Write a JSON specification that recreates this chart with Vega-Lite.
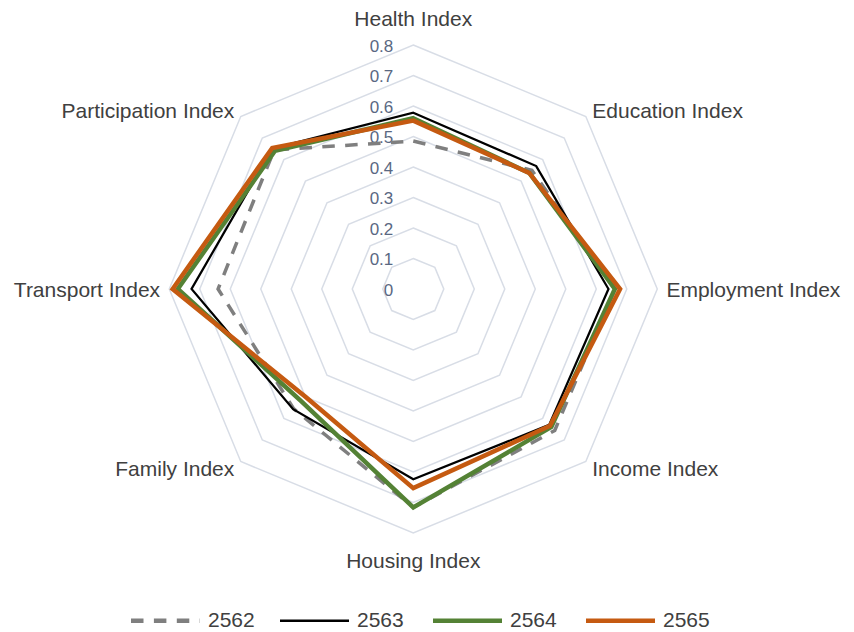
{
  "$schema": "https://vega.github.io/schema/vega-lite/v6.json",
  "width": 854,
  "height": 632,
  "autosize": {"type": "none"},
  "padding": 0,
  "background": "white",
  "config": {"view": {"stroke": null}, "font": "Liberation Sans"},
  "datasets": {
    "series": [
      {"year": "2562", "axis": "Health Index", "idx": 0, "value": 0.485},
      {"year": "2562", "axis": "Education Index", "idx": 1, "value": 0.55},
      {"year": "2562", "axis": "Employment Index", "idx": 2, "value": 0.66},
      {"year": "2562", "axis": "Income Index", "idx": 3, "value": 0.656},
      {"year": "2562", "axis": "Housing Index", "idx": 4, "value": 0.716},
      {"year": "2562", "axis": "Family Index", "idx": 5, "value": 0.555},
      {"year": "2562", "axis": "Transport Index", "idx": 6, "value": 0.64},
      {"year": "2562", "axis": "Participation Index", "idx": 7, "value": 0.645},
      {"year": "2563", "axis": "Health Index", "idx": 0, "value": 0.578},
      {"year": "2563", "axis": "Education Index", "idx": 1, "value": 0.57},
      {"year": "2563", "axis": "Employment Index", "idx": 2, "value": 0.64},
      {"year": "2563", "axis": "Income Index", "idx": 3, "value": 0.63},
      {"year": "2563", "axis": "Housing Index", "idx": 4, "value": 0.624},
      {"year": "2563", "axis": "Family Index", "idx": 5, "value": 0.557},
      {"year": "2563", "axis": "Transport Index", "idx": 6, "value": 0.727},
      {"year": "2563", "axis": "Participation Index", "idx": 7, "value": 0.652},
      {"year": "2564", "axis": "Health Index", "idx": 0, "value": 0.56},
      {"year": "2564", "axis": "Education Index", "idx": 1, "value": 0.538},
      {"year": "2564", "axis": "Employment Index", "idx": 2, "value": 0.661},
      {"year": "2564", "axis": "Income Index", "idx": 3, "value": 0.64},
      {"year": "2564", "axis": "Housing Index", "idx": 4, "value": 0.716},
      {"year": "2564", "axis": "Family Index", "idx": 5, "value": 0.52},
      {"year": "2564", "axis": "Transport Index", "idx": 6, "value": 0.772},
      {"year": "2564", "axis": "Participation Index", "idx": 7, "value": 0.641},
      {"year": "2565", "axis": "Health Index", "idx": 0, "value": 0.552},
      {"year": "2565", "axis": "Education Index", "idx": 1, "value": 0.538},
      {"year": "2565", "axis": "Employment Index", "idx": 2, "value": 0.678},
      {"year": "2565", "axis": "Income Index", "idx": 3, "value": 0.634},
      {"year": "2565", "axis": "Housing Index", "idx": 4, "value": 0.653},
      {"year": "2565", "axis": "Family Index", "idx": 5, "value": 0.5},
      {"year": "2565", "axis": "Transport Index", "idx": 6, "value": 0.789},
      {"year": "2565", "axis": "Participation Index", "idx": 7, "value": 0.654}
    ],
    "axes": [
      {"axis": "Health Index", "idx": 0},
      {"axis": "Education Index", "idx": 1},
      {"axis": "Employment Index", "idx": 2},
      {"axis": "Income Index", "idx": 3},
      {"axis": "Housing Index", "idx": 4},
      {"axis": "Family Index", "idx": 5},
      {"axis": "Transport Index", "idx": 6},
      {"axis": "Participation Index", "idx": 7}
    ],
    "levels": [
      {"level": 0, "label": "0", "k": [0, 1, 2, 3, 4, 5, 6, 7]},
      {"level": 0.1, "label": "0.1", "k": [0, 1, 2, 3, 4, 5, 6, 7]},
      {"level": 0.2, "label": "0.2", "k": [0, 1, 2, 3, 4, 5, 6, 7]},
      {"level": 0.3, "label": "0.3", "k": [0, 1, 2, 3, 4, 5, 6, 7]},
      {"level": 0.4, "label": "0.4", "k": [0, 1, 2, 3, 4, 5, 6, 7]},
      {"level": 0.5, "label": "0.5", "k": [0, 1, 2, 3, 4, 5, 6, 7]},
      {"level": 0.6, "label": "0.6", "k": [0, 1, 2, 3, 4, 5, 6, 7]},
      {"level": 0.7, "label": "0.7", "k": [0, 1, 2, 3, 4, 5, 6, 7]},
      {"level": 0.8, "label": "0.8", "k": [0, 1, 2, 3, 4, 5, 6, 7]}
    ]
  },
  "layer": [
    {
      "data": {"name": "levels"},
      "transform": [
        {"filter": "datum.level > 0"},
        {"flatten": ["k"]},
        {"calculate": "datum.level * sin(datum.k * PI / 4)", "as": "x"},
        {"calculate": "datum.level * cos(datum.k * PI / 4)", "as": "y"}
      ],
      "mark": {"type": "line", "interpolate": "linear-closed", "stroke": "#d8dde6", "strokeWidth": 1.5},
      "encoding": {
        "x": {"field": "x", "type": "quantitative", "scale": {"domain": [-1.355, 1.445], "nice": false, "zero": false}, "axis": null},
        "y": {"field": "y", "type": "quantitative", "scale": {"domain": [-1.1246, 0.9475], "nice": false, "zero": false}, "axis": null},
        "detail": {"field": "level"},
        "order": {"field": "k"}
      }
    },
    {
      "data": {"name": "levels"},
      "mark": {"type": "text", "align": "right", "baseline": "middle", "dx": -20, "dy": 2, "fontSize": 17, "color": "#5a6882", "font": "Liberation Sans"},
      "encoding": {
        "x": {"datum": 0, "type": "quantitative"},
        "y": {"field": "level", "type": "quantitative"},
        "text": {"field": "label"}
      }
    },
    {
      "data": {"name": "series"},
      "transform": [
        {"filter": "datum.year == '2562'"},
        {"calculate": "datum.value * sin(datum.idx * PI / 4)", "as": "x"},
        {"calculate": "datum.value * cos(datum.idx * PI / 4)", "as": "y"}
      ],
      "mark": {"type": "line", "interpolate": "linear-closed", "strokeWidth": 3.5, "strokeDash": [12.5, 10.4]},
      "encoding": {
        "x": {"field": "x", "type": "quantitative"},
        "y": {"field": "y", "type": "quantitative"},
        "order": {"field": "idx"},
        "color": {
          "field": "year", "type": "nominal",
          "scale": {"domain": ["2562", "2563", "2564", "2565"], "range": ["#7f7f7f", "#000000", "#548235", "#c55a11"]},
          "legend": {
            "title": null, "orient": "none", "direction": "horizontal",
            "legendX": 155, "legendY": 610,
            "symbolType": "stroke", "symbolSize": 4761,
            "labelFontSize": 21, "labelFont": "Liberation Sans", "labelColor": "#404040",
            "labelOffset": 32, "columnPadding": 20,
            "encode": {
              "symbols": {
                "update": {
                  "strokeDash": {"signal": "datum.value == '2562' ? [12.5, 10.4] : [1, 0]"},
                  "strokeWidth": {"signal": "datum.value == '2563' ? 2.5 : 4.5"}
                }
              }
            }
          }
        }
      }
    },
    {
      "data": {"name": "series"},
      "transform": [
        {"filter": "datum.year == '2563'"},
        {"calculate": "datum.value * sin(datum.idx * PI / 4)", "as": "x"},
        {"calculate": "datum.value * cos(datum.idx * PI / 4)", "as": "y"}
      ],
      "mark": {"type": "line", "interpolate": "linear-closed", "strokeWidth": 2.25},
      "encoding": {
        "x": {"field": "x", "type": "quantitative"},
        "y": {"field": "y", "type": "quantitative"},
        "order": {"field": "idx"},
        "color": {"field": "year", "type": "nominal"}
      }
    },
    {
      "data": {"name": "series"},
      "transform": [
        {"filter": "datum.year == '2564'"},
        {"calculate": "datum.value * sin(datum.idx * PI / 4)", "as": "x"},
        {"calculate": "datum.value * cos(datum.idx * PI / 4)", "as": "y"}
      ],
      "mark": {"type": "line", "interpolate": "linear-closed", "strokeWidth": 4.5},
      "encoding": {
        "x": {"field": "x", "type": "quantitative"},
        "y": {"field": "y", "type": "quantitative"},
        "order": {"field": "idx"},
        "color": {"field": "year", "type": "nominal"}
      }
    },
    {
      "data": {"name": "series"},
      "transform": [
        {"filter": "datum.year == '2565'"},
        {"calculate": "datum.value * sin(datum.idx * PI / 4)", "as": "x"},
        {"calculate": "datum.value * cos(datum.idx * PI / 4)", "as": "y"}
      ],
      "mark": {"type": "line", "interpolate": "linear-closed", "strokeWidth": 4.5},
      "encoding": {
        "x": {"field": "x", "type": "quantitative"},
        "y": {"field": "y", "type": "quantitative"},
        "order": {"field": "idx"},
        "color": {"field": "year", "type": "nominal"}
      }
    },
    {
      "data": {"name": "axes"},
      "transform": [
        {"filter": "datum.idx >= 1 && datum.idx <= 3"},
        {"calculate": "0.83 * sin(datum.idx * PI / 4)", "as": "x"},
        {"calculate": "0.83 * cos(datum.idx * PI / 4)", "as": "y"}
      ],
      "mark": {"type": "text", "align": "left", "baseline": "middle", "dy": 2, "fontSize": 21, "color": "#404040", "font": "Liberation Sans"},
      "encoding": {
        "x": {"field": "x", "type": "quantitative"},
        "y": {"field": "y", "type": "quantitative"},
        "text": {"field": "axis"}
      }
    },
    {
      "data": {"name": "axes"},
      "transform": [
        {"filter": "datum.idx >= 5"},
        {"calculate": "0.83 * sin(datum.idx * PI / 4)", "as": "x"},
        {"calculate": "0.83 * cos(datum.idx * PI / 4)", "as": "y"}
      ],
      "mark": {"type": "text", "align": "right", "baseline": "middle", "dy": 2, "fontSize": 21, "color": "#404040", "font": "Liberation Sans"},
      "encoding": {
        "x": {"field": "x", "type": "quantitative"},
        "y": {"field": "y", "type": "quantitative"},
        "text": {"field": "axis"}
      }
    },
    {
      "data": {"name": "axes"},
      "transform": [
        {"filter": "datum.idx == 0 || datum.idx == 4"},
        {"calculate": "0.888 * sin(datum.idx * PI / 4)", "as": "x"},
        {"calculate": "0.888 * cos(datum.idx * PI / 4)", "as": "y"}
      ],
      "mark": {"type": "text", "align": "center", "baseline": "middle", "dy": 2, "fontSize": 21, "color": "#404040", "font": "Liberation Sans"},
      "encoding": {
        "x": {"field": "x", "type": "quantitative"},
        "y": {"field": "y", "type": "quantitative"},
        "text": {"field": "axis"}
      }
    }
  ]
}
